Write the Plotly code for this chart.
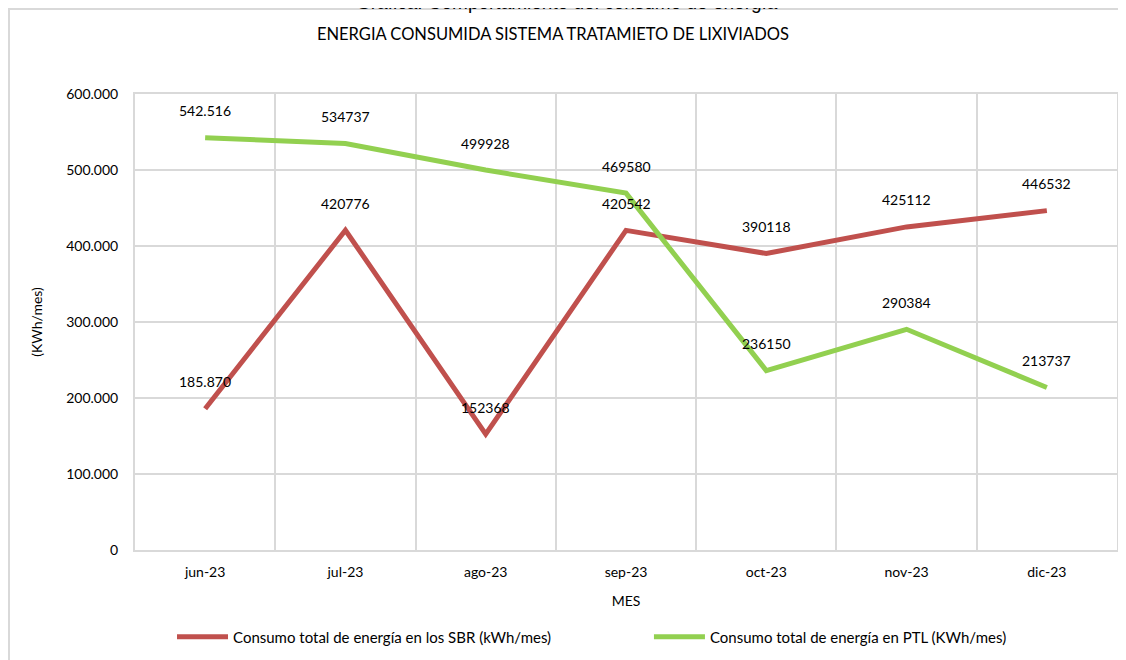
import plotly.graph_objects as go

months = ["jun-23", "jul-23", "ago-23", "sep-23", "oct-23", "nov-23", "dic-23"]
sbr = [185870, 420776, 152368, 420542, 390118, 425112, 446532]
ptl = [542516, 534737, 499928, 469580, 236150, 290384, 213737]
sbr_labels = ["185.870", "420776", "152368", "420542", "390118", "425112", "446532"]
ptl_labels = ["542.516", "534737", "499928", "469580", "236150", "290384", "213737"]

FONT = "Lato, Open Sans, sans-serif"
RED = "#C0504D"
GREEN = "#92D050"
GRID = "#D9D9D9"

fig = go.Figure()
fig.add_trace(go.Scatter(x=months, y=sbr, mode="lines", line=dict(color=RED, width=5),
                         name="Consumo total de energía en los SBR (kWh/mes)", legend="legend"))
fig.add_trace(go.Scatter(x=months, y=ptl, mode="lines", line=dict(color=GREEN, width=5),
                         name="Consumo total de energía en PTL (KWh/mes)", legend="legend2"))

for xs, ys, ts in ((months, sbr, sbr_labels), (months, ptl, ptl_labels)):
    for x, y, t in zip(xs, ys, ts):
        fig.add_annotation(x=x, y=y, text=t, showarrow=False, yshift=27,
                           font=dict(family=FONT, size=14, color="#000000"))

fig.add_annotation(xref="paper", yref="paper", x=0.44, y=1.0, yshift=92,
                   text="Gráfica. Comportamiento del consumo de energía", showarrow=False,
                   yanchor="middle", font=dict(family="Liberation Sans, Arial", size=19, color="#000"))

# outer chart border
fig.add_shape(type="rect", xref="paper", yref="paper", x0=-0.1283, x1=1.0071, y0=-0.4, y1=1.1864,
              line=dict(color=GRID, width=2), layer="below")

leg_common = dict(orientation="h", xref="container", yref="container", xanchor="left",
                  yanchor="middle", y=0.0353, itemwidth=51,
                  font=dict(family=FONT, size=15, color="#000"), bgcolor="rgba(0,0,0,0)")

fig.update_layout(
    width=1118, height=652,
    margin=dict(l=127, r=9, t=86, b=110, autoexpand=False),
    paper_bgcolor="white", plot_bgcolor="white",
    separators=",.",
    title=dict(text="ENERGIA CONSUMIDA SISTEMA TRATAMIETO DE LIXIVIADOS", x=0.4874, xanchor="center",
               y=0.960, yanchor="middle", font=dict(family=FONT, size=16.5, color="#000")),
    font=dict(family=FONT, size=14, color="#000"),
    showlegend=True,
    legend=dict(x=0.1467, **leg_common),
    legend2=dict(x=0.5733, **leg_common),
    xaxis=dict(type="category", range=[-0.5, 6.5], tickson="boundaries", showgrid=True,
               gridcolor=GRID, gridwidth=2,
               showline=True, linecolor=GRID, linewidth=2, mirror=True, ticks="",
               ticklabelstandoff=8,
               title=dict(text="MES", font=dict(family=FONT, size=14), standoff=17),
               tickfont=dict(family=FONT, size=14)),
    yaxis=dict(range=[0, 600000], dtick=100000, tickformat=",d", showgrid=True, gridcolor=GRID,
               gridwidth=2, showline=True, linecolor=GRID, linewidth=2, mirror=True, ticks="",
               zeroline=False, ticklabelstandoff=12,
               title=dict(text="(KWh/mes)", font=dict(family=FONT, size=14), standoff=20),
               tickfont=dict(family=FONT, size=14)),
)

fig.write_html("out.html")
